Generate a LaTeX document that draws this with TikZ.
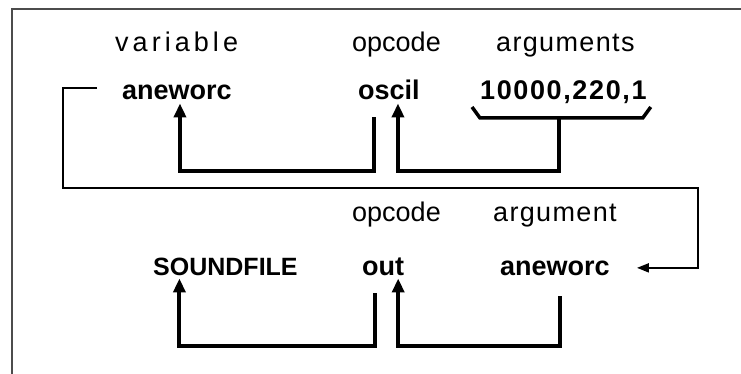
\documentclass[tikz,border=0pt]{standalone}
\usepackage{fontspec}
\setmainfont{Liberation Sans}
\usetikzlibrary{arrows.meta}

\tikzset{
  lbl/.style={anchor=base west, inner sep=0pt, font=\fontsize{27}{32}\selectfont},
  word/.style={anchor=base west, inner sep=0pt, font=\fontsize{27}{32}\selectfont\bfseries},
  flow/.style={line width=4pt, line join=miter, -{Triangle[length=14pt,width=12pt]}},
  brace/.style={line width=3.5pt, line join=miter},
  back/.style={line width=2pt, line join=miter, -{Triangle[length=12pt,width=9pt]}},
  frame/.style={line width=1.5pt, black!70},
}

\begin{document}
\begin{tikzpicture}[x=1pt, y=-1pt]
    \useasboundingbox (0,0) rectangle (741,374);

    % Рамка (верх и левый край)
    \draw[frame] (12,374) -- (12,9) -- (741,9);

    % Первая строка: подписи
    \node[lbl] (varA) at (115,52) {\addfontfeature{LetterSpace=15}variable};
    \node[lbl] (opA) at (352,52) {opcode};
    \node[lbl] (argsA) at (496,52) {\addfontfeature{LetterSpace=5}arguments};

    % Первая строка: оператор
    \node[word] (dest) at (122,100) {aneworc};
    \node[word] (oscil) at (358,100) {oscil};
    \node[word] (args) at (480,100) {\addfontfeature{LetterSpace=6}10000,220,1};

    % Вторая строка: подписи
    \node[lbl] (opB) at (352,222) {opcode};
    \node[lbl] (argB) at (493,222) {\addfontfeature{LetterSpace=5}argument};

    % Вторая строка: оператор
    \node[word, font=\fontsize{25}{30}\selectfont\bfseries] (sfile) at (153,275) {SOUNDFILE};
    \node[word] (out) at (362,275) {out};
    \node[word] (src) at (500,275) {aneworc};

    % Скобка под аргументами
    \draw[brace] ([xshift=-8pt,yshift=-7pt]args.base west) -- ([yshift=-18pt]args.base west)
        -- ([xshift=-4pt,yshift=-18pt]args.base east) -- ([xshift=4pt,yshift=-7pt]args.base east);
    \coordinate (stem) at ([xshift=-4pt,yshift=-18pt]args.base);

    % Стрелки первой строки
    \draw[flow] (stem) -- ++(0,53) -| ([xshift=9pt,yshift=-3pt]oscil.south);
    \draw[flow] ([xshift=-15pt,yshift=-17pt]oscil.south) -- ++(0,54) -| ([xshift=3pt,yshift=-3pt]dest.south);

    % Обратная связь: переменная идёт аргументом во вторую строку
    \coordinate (fb) at (97,88);
    \draw[back] (fb) -- ++(-34,0) -- ++(0,100) -| ([xshift=88pt]src.east) -- ([xshift=27pt]src.east);

    % Стрелки второй строки
    \draw[flow] ([xshift=5pt,yshift=-21pt]src.south) -- ++(0,50) -| ([xshift=15pt,yshift=-3pt]out.south);
    \draw[flow] ([xshift=-8pt,yshift=-18pt]out.south) -- ++(0,53) -| ([xshift=-46pt,yshift=-3pt]sfile.south);
\end{tikzpicture}
\end{document}
